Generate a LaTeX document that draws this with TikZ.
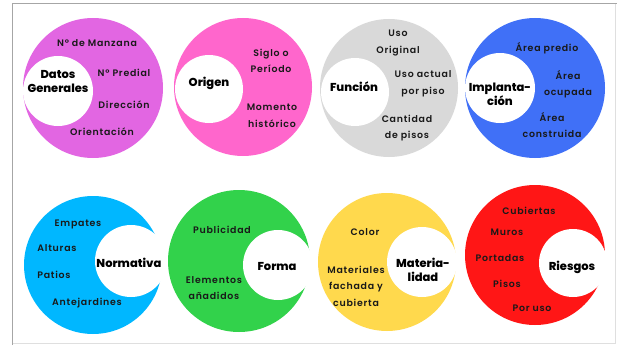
\documentclass[tikz,border=0pt]{standalone}
\usepackage{fontspec}
\setmainfont{Poppins}
\newfontfamily\itemfont{Poppins SemiBold}[LetterSpace=8]
\newfontfamily\titlefont{Poppins ExtraBold}
\usetikzlibrary{positioning}
\definecolor{violeta}{RGB}{226,102,226}
\definecolor{rosa}{RGB}{255,102,204}
\definecolor{gris}{RGB}{217,217,217}
\definecolor{azul}{RGB}{64,112,247}
\definecolor{celeste}{RGB}{0,183,255}
\definecolor{verde}{RGB}{50,210,75}
\definecolor{amarillo}{RGB}{255,217,77}
\definecolor{rojo}{RGB}{255,22,22}
\tikzstyle{disco} = [circle, inner sep=0pt, minimum size=140pt]
\tikzstyle{hueco} = [circle, fill=white, inner sep=0pt, minimum size=70pt]
\tikzstyle{item} = [align=center, inner sep=1pt, text=black!90, font=\itemfont\fontsize{9.4}{16.5}\selectfont]
\tikzstyle{titulo} = [align=center, inner sep=1pt, font=\titlefont\fontsize{11.5}{14}\selectfont]

\begin{document}
\begin{tikzpicture}[x=1pt, y=-1pt]
    \useasboundingbox (0,0) rectangle (617,345);
    \draw[gray!25, line width=1pt] (615,4) -- (615,343) -- (12,343);
    \draw[gray!70, line width=1pt] (12,345) -- (12,4) -- (617,4);

    % fila de arriba
    \node[disco, fill=violeta] (datos) at (93,88) {};
    \node[hueco] (datosh) at (58,91) {};
    \node[disco, fill=rosa, minimum size=138pt] (origen) at (243,87) {};
    \node[hueco, minimum size=68pt] (origenh) at (209,89) {};
    \node[disco, fill=gris, minimum size=138pt] (funcion) at (389,88) {};
    \node[hueco, minimum size=68pt] (funcionh) at (355,92) {};
    \node[disco, fill=azul] (implant) at (535,88) {};
    \node[hueco] (implanth) at (500,88) {};

    % fila de abajo
    \node[disco, fill=celeste, minimum size=138pt] (norma) at (93,265) {};
    \node[hueco, minimum size=72pt] (normah) at (131,261) {};
    \node[disco, fill=verde, minimum size=142pt] (forma) at (239,261) {};
    \node[hueco] (formah) at (278,265) {};
    \node[disco, fill=amarillo, minimum size=138pt] (mater) at (387,262) {};
    \node[hueco] (materh) at (422,262) {};
    \node[disco, fill=rojo] (riesgo) at (535,255) {};
    \node[hueco, minimum size=68pt] (riesgoh) at (573,263) {};

    % titulos
    \node[titulo] (tdatos) at (58,81) {Datos\\Generales};
    \node[titulo] (torigen) at (209,83) {Origen};
    \node[titulo] (tfuncion) at (354,87) {Función};
    \node[titulo] (timplant) at (500,94) {Implanta-\\ción};
    \node[titulo] (tnorma) at (129,263) {Normativa};
    \node[titulo] (tforma) at (277,266) {Forma};
    \node[titulo] (tmater) at (423,270) {Materia-\\lidad};
    \node[titulo] (triesgo) at (572,267) {Riesgos};

    % datos generales
    \node[item] (manzana) at (97,43) {N° de Manzana};
    \node[item] (predial) at (124,73) {N° Predial};
    \node[item] (direccion) at (124,105) {Dirección};
    \node[item] (orienta) at (102,132) {Orientación};
    % origen
    \node[item] (siglo) at (271,61) {Siglo o\\Período};
    \node[item] (momento) at (272,116) {Momento\\histórico};
    % funcion
    \node[item] (usoorig) at (398,43) {Uso\\Original};
    \node[item] (usoact) at (423,84) {Uso actual\\por piso};
    \node[item] (pisos) at (407,128) {Cantidad\\de pisos};
    % implantacion
    \node[item] (apredio) at (547,48) {Área predio};
    \node[item] (aocup) at (568,84) {Área\\ocupada};
    \node[item] (aconst) at (552,125) {Área\\construida};
    % normativa
    \node[item] (empates) at (78,224) {Empates};
    \node[item] (alturas) at (57,248) {Alturas};
    \node[item] (patios) at (54,275) {Patios};
    \node[item] (antejard) at (87,303) {Antejardines};
    % forma
    \node[item] (public) at (222,230) {Publicidad};
    \node[item] (elem) at (214,288) {Elementos\\añadidos};
    % materialidad
    \node[item] (color) at (365,232) {Color};
    \node[item] (materiales) at (356,286) {Materiales\\fachada y\\cubierta};
    % riesgos
    \node[item] (cubiertas) at (529,211) {Cubiertas};
    \node[item] (muros) at (507,232) {Muros};
    \node[item] (portadas) at (500,258) {Portadas};
    \node[item] (rpisos) at (507,284) {Pisos};
    \node[item] (poruso) at (532,308) {Por uso};
\end{tikzpicture}
\end{document}
